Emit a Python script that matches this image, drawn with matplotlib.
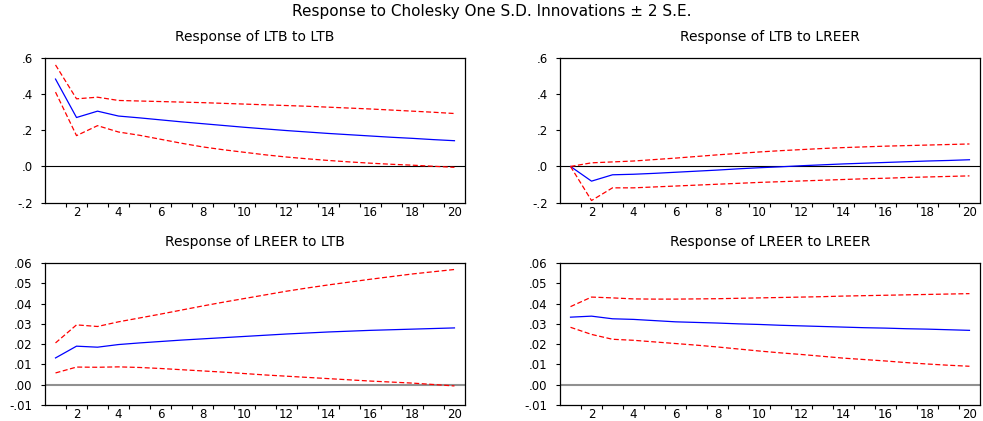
import numpy as np
import matplotlib
matplotlib.use("Agg")
import matplotlib.pyplot as plt

plt.rcParams['font.family'] = ['DejaVu Sans']

periods = list(range(1, 21))

# Response of LTB to LTB
ltb_ltb = [0.482, 0.270, 0.305, 0.278, 0.268, 0.257, 0.246, 0.236, 0.226, 0.216,
           0.207, 0.198, 0.190, 0.182, 0.175, 0.168, 0.161, 0.155, 0.148, 0.142]
ltb_ltb_hi = [0.560, 0.373, 0.382, 0.364, 0.361, 0.358, 0.355, 0.352, 0.348, 0.344,
              0.340, 0.336, 0.332, 0.327, 0.322, 0.317, 0.311, 0.305, 0.299, 0.292]
ltb_ltb_lo = [0.410, 0.170, 0.225, 0.190, 0.172, 0.150, 0.128, 0.108, 0.092, 0.078,
              0.064, 0.052, 0.042, 0.033, 0.025, 0.018, 0.012, 0.007, 0.001, -0.005]

# Response of LTB to LREER
ltb_lreer = [0.0, -0.081, -0.046, -0.043, -0.038, -0.032, -0.026, -0.020, -0.013, -0.007,
             -0.002, 0.004, 0.009, 0.014, 0.018, 0.022, 0.026, 0.030, 0.033, 0.037]
ltb_lreer_hi = [0.0, 0.020, 0.025, 0.030, 0.038, 0.046, 0.055, 0.064, 0.072, 0.080,
                0.087, 0.093, 0.099, 0.104, 0.108, 0.112, 0.115, 0.118, 0.121, 0.124]
ltb_lreer_lo = [0.0, -0.188, -0.118, -0.118, -0.113, -0.108, -0.103, -0.098, -0.093, -0.088,
                -0.084, -0.080, -0.076, -0.072, -0.068, -0.065, -0.061, -0.058, -0.055, -0.052]

# Response of LREER to LTB
lreer_ltb = [0.0132, 0.0190, 0.0185, 0.0198, 0.0206, 0.0213, 0.0220, 0.0226, 0.0232, 0.0238,
             0.0244, 0.0250, 0.0255, 0.0260, 0.0264, 0.0268, 0.0271, 0.0274, 0.0277, 0.0280]
lreer_ltb_hi = [0.0206, 0.0295, 0.0287, 0.0310, 0.0329, 0.0348, 0.0368, 0.0388, 0.0407, 0.0425,
                0.0443, 0.0461, 0.0477, 0.0492, 0.0506, 0.0520, 0.0533, 0.0546, 0.0557, 0.0568]
lreer_ltb_lo = [0.0058, 0.0087, 0.0086, 0.0088, 0.0085, 0.0080, 0.0074, 0.0068, 0.0062, 0.0055,
                0.0048, 0.0042, 0.0036, 0.0030, 0.0024, 0.0018, 0.0013, 0.0008, 0.0001, -0.0006]

# Response of LREER to LREER
lreer_lreer = [0.0333, 0.0338, 0.0325, 0.0322, 0.0316, 0.0310, 0.0307, 0.0304, 0.0300, 0.0297,
               0.0293, 0.0290, 0.0287, 0.0284, 0.0281, 0.0279, 0.0276, 0.0274, 0.0271, 0.0268]
lreer_lreer_hi = [0.0385, 0.0432, 0.0428, 0.0423, 0.0422, 0.0422, 0.0423, 0.0424, 0.0426, 0.0428,
                  0.0430, 0.0432, 0.0434, 0.0437, 0.0439, 0.0441, 0.0443, 0.0445, 0.0447, 0.0449]
lreer_lreer_lo = [0.0283, 0.0248, 0.0224, 0.0219, 0.0211, 0.0203, 0.0195, 0.0186, 0.0176, 0.0166,
                  0.0157, 0.0149, 0.0140, 0.0131, 0.0124, 0.0117, 0.0109, 0.0102, 0.0096, 0.0091]

panels = [
    ("Response of LTB to LTB", ltb_ltb, ltb_ltb_hi, ltb_ltb_lo, "top"),
    ("Response of LTB to LREER", ltb_lreer, ltb_lreer_hi, ltb_lreer_lo, "top"),
    ("Response of LREER to LTB", lreer_ltb, lreer_ltb_hi, lreer_ltb_lo, "bottom"),
    ("Response of LREER to LREER", lreer_lreer, lreer_lreer_hi, lreer_lreer_lo, "bottom"),
]

rects = [
    [0.0458, 0.5185, 0.4272, 0.3445],
    [0.5697, 0.5185, 0.4272, 0.3445],
    [0.0458, 0.0380, 0.4272, 0.3373],
    [0.5697, 0.0380, 0.4272, 0.3373],
]

fig = plt.figure(figsize=(9.83, 4.21), dpi=100)
fig.text(0.5, 0.972, "Response to Cholesky One S.D. Innovations \u00b1 2 S.E.",
         ha="center", va="center", fontsize=11)

for (title, resp, hi, lo, row), rect in zip(panels, rects):
    ax = fig.add_axes(rect)
    if row == "top":
        ax.axhline(0, color="black", lw=0.8)
        ax.set_ylim(-0.2, 0.6)
        ax.set_yticks([-0.2, 0.0, 0.2, 0.4, 0.6])
        ax.set_yticklabels(["-.2", ".0", ".2", ".4", ".6"])
    else:
        ax.axhline(0, color="#909090", lw=1.5)
        ax.set_ylim(-0.01, 0.06)
        ax.set_yticks([-0.01, 0.0, 0.01, 0.02, 0.03, 0.04, 0.05, 0.06])
        ax.set_yticklabels(["-.01", ".00", ".01", ".02", ".03", ".04", ".05", ".06"])
    ax.plot(periods, resp, color="#0000ff", lw=0.9)
    ax.plot(periods, hi, color="#ff0000", lw=0.9, ls=(0, (4, 2)))
    ax.plot(periods, lo, color="#ff0000", lw=0.9, ls=(0, (4, 2)))
    ax.set_xlim(0.5, 20.5)
    ax.set_xticks(np.arange(1.5, 20.5, 1.0))
    ax.set_xticklabels([])
    ax.set_xticks(range(2, 21, 2), minor=True)
    ax.set_xticklabels([str(p) for p in range(2, 21, 2)], minor=True)
    ax.tick_params(axis="x", which="major", direction="out", length=3, width=0.8)
    ax.tick_params(axis="x", which="minor", length=0, pad=2.5, labelsize=8.5)
    ax.tick_params(axis="y", direction="out", length=3, width=0.8, pad=6, labelsize=8.5)
    for s in ax.spines.values():
        s.set_linewidth(0.9)
    ax.set_title(title, fontsize=10, pad=12)

fig.savefig("out.png", dpi=100)
